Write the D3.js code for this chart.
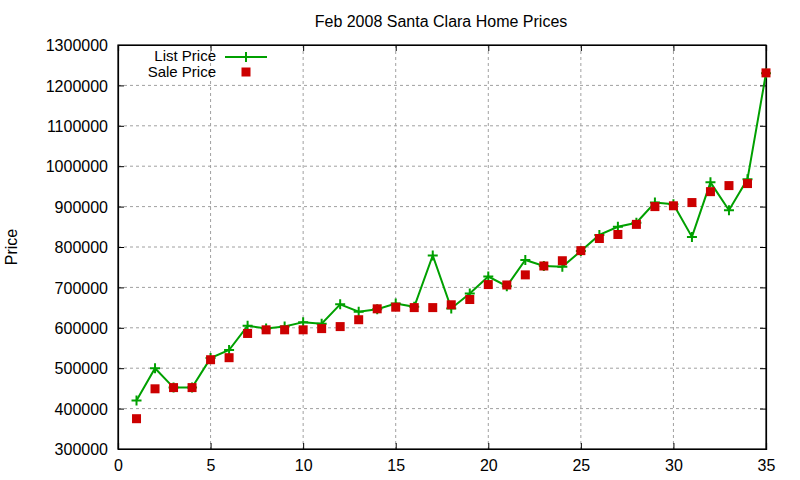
<!DOCTYPE html>
<html>
<head>
<meta charset="utf-8">
<script src="https://cdn.jsdelivr.net/npm/d3@7"></script>
<style>
  body { margin: 0; background: #fff; }
  text { font-family: "Liberation Sans", Arial, sans-serif; fill: #000; }
</style>
</head>
<body>
<div id="chart"></div>
<script>
// listing index 1..35
const homeIndex  = d3.range(1, 36);
const listPrice  = [420000, 500000, 452000, 452000, 525000, 545000, 605000, 598000, 603000, 614000,
                    610000, 658000, 640000, 646000, 660000, 652000, 779000, 648000, 685000, 727000,
                    703000, 768000, 753000, 751000, 790000, 830000, 850000, 860000, 910000, 906000,
                    825000, 960000, 891000, 968000, 1230000];
const salePrice  = [375000, 449000, 452000, 452000, 521000, 526000, 586000, 595000, 595000, 595000,
                    598000, 603000, 620000, 647000, 651000, 650000, 650000, 657000, 670000, 707000,
                    706000, 731000, 753000, 766000, 791000, 821000, 831000, 856000, 900000, 902000,
                    910000, 937000, 952000, 957000, 1231000];
const xTicks = [0, 5, 10, 15, 20, 25, 30, 35];
const yTicks = d3.range(300000, 1300001, 100000);

const width = 800, height = 480;
const margin = {top: 45, right: 34, bottom: 31, left: 118};

const svg = d3.select("#chart").append("svg")
    .attr("width", width)
    .attr("height", height);

const x = d3.scaleLinear().domain([0, 35]).range([margin.left, width - margin.right]);
const y = d3.scaleLinear().domain([300000, 1300000]).range([height - margin.bottom, margin.top]);

// grid
svg.append("g")
    .selectAll("line.vgrid")
    .data(xTicks.slice(1, -1))
    .join("line")
    .attr("x1", d => x(d)).attr("x2", d => x(d))
    .attr("y1", margin.top).attr("y2", height - margin.bottom)
    .attr("stroke", "#a0a0a0").attr("stroke-dasharray", "3,3");

svg.append("g")
    .selectAll("line.hgrid")
    .data(yTicks.slice(1, -1))
    .join("line")
    .attr("x1", margin.left).attr("x2", width - margin.right)
    .attr("y1", d => y(d)).attr("y2", d => y(d))
    .attr("stroke", "#a0a0a0").attr("stroke-dasharray", "3,3");

// axes, ticks pointing inward like gnuplot
const bottomAxis = svg.append("g")
    .attr("transform", `translate(0,${height - margin.bottom})`)
    .call(d3.axisBottom(x).tickValues(xTicks).tickSize(-6).tickPadding(10));
const leftAxis = svg.append("g")
    .attr("transform", `translate(${margin.left},0)`)
    .call(d3.axisLeft(y).tickValues(yTicks).tickFormat(d3.format("d")).tickSize(-6).tickPadding(10));
svg.append("g")
    .attr("transform", `translate(0,${margin.top})`)
    .call(d3.axisTop(x).tickValues(xTicks).tickSize(-6).tickFormat(""));
svg.append("g")
    .attr("transform", `translate(${width - margin.right},0)`)
    .call(d3.axisRight(y).tickValues(yTicks).tickSize(-6).tickFormat(""));

svg.selectAll(".domain").attr("stroke", "#000").attr("stroke-width", 1.2);
svg.selectAll(".tick line").attr("stroke", "#000");
bottomAxis.selectAll("text").attr("font-size", 16).attr("dy", "0.75em");
leftAxis.selectAll("text").attr("font-size", 16).attr("dy", "0.35em");

// border
svg.append("rect")
    .attr("x", margin.left).attr("y", margin.top)
    .attr("width", width - margin.left - margin.right)
    .attr("height", height - margin.top - margin.bottom)
    .attr("fill", "none").attr("stroke", "#000").attr("stroke-width", 1.2);

// title + y label
svg.append("text")
    .attr("x", 441).attr("y", 27)
    .attr("text-anchor", "middle")
    .attr("font-size", 16)
    .text("Feb 2008 Santa Clara Home Prices");

svg.append("text")
    .attr("transform", "translate(17,247) rotate(-90)")
    .attr("text-anchor", "middle")
    .attr("font-size", 16)
    .text("Price");

const green = "#00a000", red = "#cc0000";

// list price line
const line = d3.line()
    .x((d, i) => x(homeIndex[i]))
    .y(d => y(d));

svg.append("path")
    .datum(listPrice)
    .attr("d", line)
    .attr("fill", "none")
    .attr("stroke", green)
    .attr("stroke-width", 2);

svg.append("g")
    .selectAll("path")
    .data(listPrice)
    .join("path")
    .attr("d", "M-5,0H5M0,-5V5")
    .attr("transform", (d, i) => `translate(${x(homeIndex[i])},${y(d)})`)
    .attr("stroke", green)
    .attr("stroke-width", 2);

// sale price squares
svg.append("g")
    .selectAll("rect")
    .data(salePrice)
    .join("rect")
    .attr("x", (d, i) => x(homeIndex[i]) - 4.5)
    .attr("y", d => y(d) - 4.5)
    .attr("width", 9).attr("height", 9)
    .attr("fill", red);

// legend
const legend = svg.append("g");
legend.append("text")
    .attr("x", 216).attr("y", 56).attr("dy", "0.35em")
    .attr("text-anchor", "end").attr("font-size", 15)
    .text("List Price");
legend.append("line")
    .attr("x1", 225).attr("x2", 267).attr("y1", 57).attr("y2", 57)
    .attr("stroke", green).attr("stroke-width", 2);
legend.append("path")
    .attr("d", "M-5,0H5M0,-5V5")
    .attr("transform", "translate(246,57)")
    .attr("stroke", green).attr("stroke-width", 2);
legend.append("text")
    .attr("x", 216).attr("y", 72).attr("dy", "0.35em")
    .attr("text-anchor", "end").attr("font-size", 15)
    .text("Sale Price");
legend.append("rect")
    .attr("x", 241.5).attr("y", 67.5).attr("width", 9).attr("height", 9)
    .attr("fill", red);
</script>
</body>
</html>
